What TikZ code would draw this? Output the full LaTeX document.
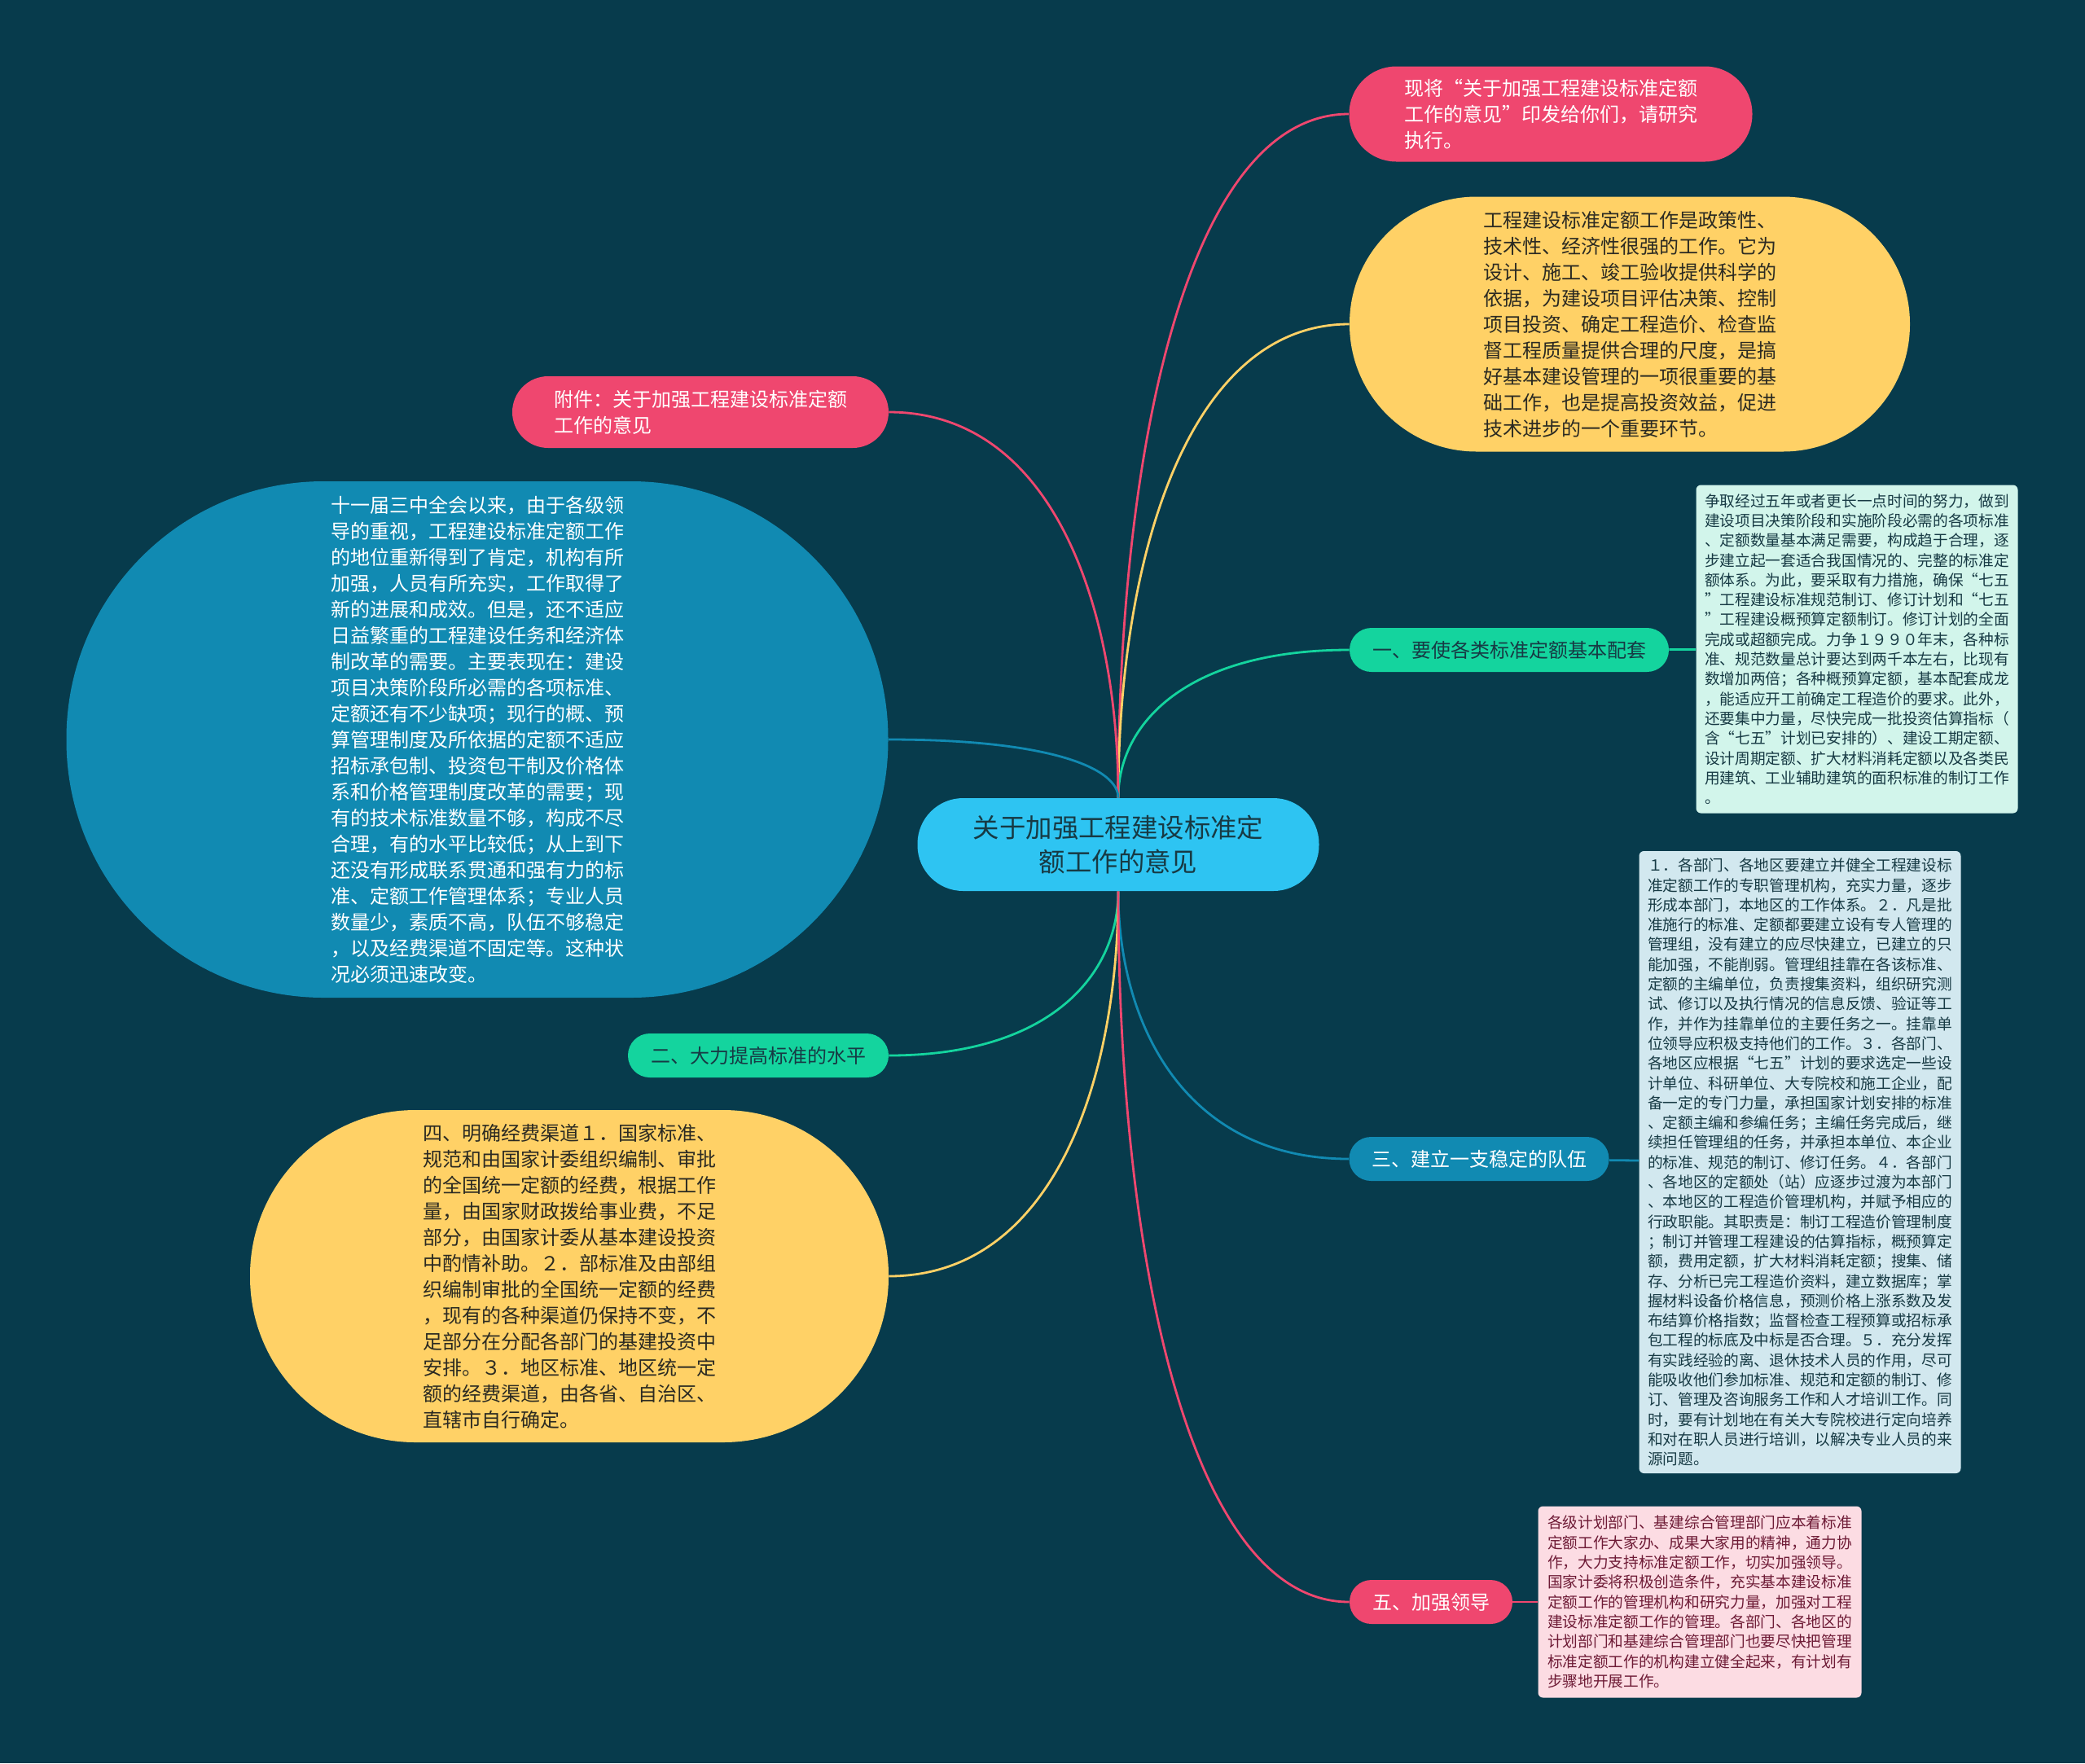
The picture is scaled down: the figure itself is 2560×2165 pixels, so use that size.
\documentclass[tikz,border=0pt]{standalone}
\usepackage{fontspec}
\newfontfamily\cjk[CharacterWidth=Full]{Noto Sans CJK SC}
\usetikzlibrary{positioning}
\definecolor{mapbg}{HTML}{073B4C}
\definecolor{mappink}{HTML}{EF476F}
\definecolor{mapyellow}{HTML}{FFD166}
\definecolor{mapgreen}{HTML}{14D49E}
\definecolor{mapblue}{HTML}{118AB2}
\definecolor{mapcyan}{HTML}{2EC4F2}
\definecolor{mint}{HTML}{D2F5EB}
\definecolor{ice}{HTML}{D2E8EF}
\definecolor{blush}{HTML}{FCDCE3}
\definecolor{inkdark}{HTML}{2B2A22}
\definecolor{inkteal}{HTML}{173A44}
\definecolor{inkwine}{HTML}{6E1B36}
\newcommand\topicfs{\cjk\fontsize{16.2pt}{21pt}\selectfont}
\newcommand\mainfs{\cjk\fontsize{12pt}{16pt}\selectfont}
\newcommand\leaffs{\cjk\fontsize{9.35pt}{12.15pt}\selectfont}

\begin{document}
\begin{tikzpicture}[
    x=0.5pt, y=-0.5pt,
    topic/.style={rectangle, fill=mapcyan, text=inkteal, inner sep=0pt, align=center, font=\topicfs, minimum width=246.5pt, minimum height=57pt, rounded corners=28pt},
    branch/.style={rectangle, inner sep=0pt, align=left, font=\mainfs},
    pill/.style={branch, minimum height=27pt, rounded corners=13.4pt},
    leaf/.style={rectangle, rounded corners=3pt, inner sep=0pt, align=left, font=\leaffs, minimum width=197.5pt},
    link/.style={line width=1.4pt}
]
\fill[mapbg] (0,0) rectangle (2560,2165);

% centre
\node[topic] (root) at (1373,1037) {关于加强工程建设标准定\\额工作的意见};

% right side
\node[branch, fill=mappink, text=white, minimum width=247.5pt, minimum height=58.5pt, rounded corners=29pt] (notice) at (1904,140) {现将“关于加强工程建设标准定额\\工作的意见”印发给你们，请研究\\执行。};
\node[branch, fill=mapyellow, text=inkdark, minimum width=344pt, minimum height=156.5pt, rounded corners=78pt] (role) at (2001,398) {工程建设标准定额工作是政策性、\\技术性、经济性很强的工作。它为\\设计、施工、竣工验收提供科学的\\依据，为建设项目评估决策、控制\\项目投资、确定工程造价、检查监\\督工程质量提供合理的尺度，是搞\\好基本建设管理的一项很重要的基\\础工作，也是提高投资效益，促进\\技术进步的一个重要环节。};
\node[pill, fill=mapgreen, text=inkteal, minimum width=196pt] (match) at (1853,798) {一、要使各类标准定额基本配套};
\node[leaf, fill=mint, text=inkteal, minimum height=201.5pt] (matchtxt) at (2280,797) {争取经过五年或者更长一点时间的努力，做到\\建设项目决策阶段和实施阶段必需的各项标准\\、定额数量基本满足需要，构成趋于合理，逐\\步建立起一套适合我国情况的、完整的标准定\\额体系。为此，要采取有力措施，确保“七五\\”工程建设标准规范制订、修订计划和“七五\\”工程建设概预算定额制订。修订计划的全面\\完成或超额完成。力争１９９０年末，各种标\\准、规范数量总计要达到两千本左右，比现有\\数增加两倍；各种概预算定额，基本配套成龙\\，能适应开工前确定工程造价的要求。此外，\\还要集中力量，尽快完成一批投资估算指标（\\含“七五”计划已安排的）、建设工期定额、\\设计周期定额、扩大材料消耗定额以及各类民\\用建筑、工业辅助建筑的面积标准的制订工作\\。};
\node[pill, fill=mapblue, text=white, minimum width=159.5pt] (team) at (1816,1423) {三、建立一支稳定的队伍};
\node[leaf, fill=ice, text=inkteal, minimum height=382pt] (teamtxt) at (2210,1427) {１．各部门、各地区要建立并健全工程建设标\\准定额工作的专职管理机构，充实力量，逐步\\形成本部门，本地区的工作体系。２．凡是批\\准施行的标准、定额都要建立设有专人管理的\\管理组，没有建立的应尽快建立，已建立的只\\能加强，不能削弱。管理组挂靠在各该标准、\\定额的主编单位，负责搜集资料，组织研究测\\试、修订以及执行情况的信息反馈、验证等工\\作，并作为挂靠单位的主要任务之一。挂靠单\\位领导应积极支持他们的工作。３．各部门、\\各地区应根据“七五”计划的要求选定一些设\\计单位、科研单位、大专院校和施工企业，配\\备一定的专门力量，承担国家计划安排的标准\\、定额主编和参编任务；主编任务完成后，继\\续担任管理组的任务，并承担本单位、本企业\\的标准、规范的制订、修订任务。４．各部门\\、各地区的定额处（站）应逐步过渡为本部门\\、本地区的工程造价管理机构，并赋予相应的\\行政职能。其职责是：制订工程造价管理制度\\；制订并管理工程建设的估算指标，概预算定\\额，费用定额，扩大材料消耗定额；搜集、储\\存、分析已完工程造价资料，建立数据库；掌\\握材料设备价格信息，预测价格上涨系数及发\\布结算价格指数；监督检查工程预算或招标承\\包工程的标底及中标是否合理。５．充分发挥\\有实践经验的离、退休技术人员的作用，尽可\\能吸收他们参加标准、规范和定额的制订、修\\订、管理及咨询服务工作和人才培训工作。同\\时，要有计划地在有关大专院校进行定向培养\\和对在职人员进行培训，以解决专业人员的来\\源问题。};
\node[pill, fill=mappink, text=white, minimum width=100pt] (lead) at (1757,1967) {五、加强领导};
\node[leaf, fill=blush, text=inkwine, minimum width=198.5pt, minimum height=117.5pt] (leadtxt) at (2087,1967) {各级计划部门、基建综合管理部门应本着标准\\定额工作大家办、成果大家用的精神，通力协\\作，大力支持标准定额工作，切实加强领导。\\国家计委将积极创造条件，充实基本建设标准\\定额工作的管理机构和研究力量，加强对工程\\建设标准定额工作的管理。各部门、各地区的\\计划部门和基建综合管理部门也要尽快把管理\\标准定额工作的机构建立健全起来，有计划有\\步骤地开展工作。};

% left side
\node[branch, fill=mappink, text=white, minimum width=231pt, minimum height=44pt, rounded corners=22pt] (annex) at (860,506) {附件：关于加强工程建设标准定额\\工作的意见};
\node[branch, fill=mapblue, text=white, minimum width=504.5pt, minimum height=317pt, rounded corners=158pt] (status) at (586,908) {十一届三中全会以来，由于各级领\\导的重视，工程建设标准定额工作\\的地位重新得到了肯定，机构有所\\加强，人员有所充实，工作取得了\\新的进展和成效。但是，还不适应\\日益繁重的工程建设任务和经济体\\制改革的需要。主要表现在：建设\\项目决策阶段所必需的各项标准、\\定额还有不少缺项；现行的概、预\\算管理制度及所依据的定额不适应\\招标承包制、投资包干制及价格体\\系和价格管理制度改革的需要；现\\有的技术标准数量不够，构成不尽\\合理，有的水平比较低；从上到下\\还没有形成联系贯通和强有力的标\\准、定额工作管理体系；专业人员\\数量少，素质不高，队伍不够稳定\\，以及经费渠道不固定等。这种状\\况必须迅速改变。};
\node[pill, fill=mapgreen, text=inkteal, minimum width=160pt] (level) at (931,1296) {二、大力提高标准的水平};
\node[branch, fill=mapyellow, text=inkdark, minimum width=392pt, minimum height=204pt, rounded corners=101.5pt] (funding) at (699,1567) {四、明确经费渠道１．国家标准、\\规范和由国家计委组织编制、审批\\的全国统一定额的经费，根据工作\\量，由国家财政拨给事业费，不足\\部分，由国家计委从基本建设投资\\中酌情补助。２．部标准及由部组\\织编制审批的全国统一定额的经费\\，现有的各种渠道仍保持不变，不\\足部分在分配各部门的基建投资中\\安排。３．地区标准、地区统一定\\额的经费渠道，由各省、自治区、\\直辖市自行确定。};

% connectors
\draw[link, mappink] (root.north) .. controls +(0,-420) and +(-200,0) .. (notice.west);
\draw[link, mapyellow] (root.north) .. controls +(0,-290) and +(-200,0) .. (role.west);
\draw[link, mapgreen] (root.north) .. controls +(0,-91) and +(-200,0) .. (match.west);
\draw[link, mappink] (root.north) .. controls +(0,-237) and +(200,0) .. (annex.east);
\draw[link, mapblue] (root.north) .. controls +(0,-36) and +(200,0) .. (status.east);
\draw[link, mapgreen] (root.south) .. controls +(0,101) and +(200,0) .. (level.east);
\draw[link, mapyellow] (root.south) .. controls +(0,236) and +(200,0) .. (funding.east);
\draw[link, mapblue] (root.south) .. controls +(0,165) and +(-200,0) .. (team.west);
\draw[link, mappink] (root.south) .. controls +(0,436) and +(-200,0) .. (lead.west);
\draw[link, mapgreen] (match) -- (matchtxt);
\draw[link, mapblue] (team) -- (teamtxt);
\draw[link, mappink] (lead) -- (leadtxt);
\end{tikzpicture}
\end{document}
